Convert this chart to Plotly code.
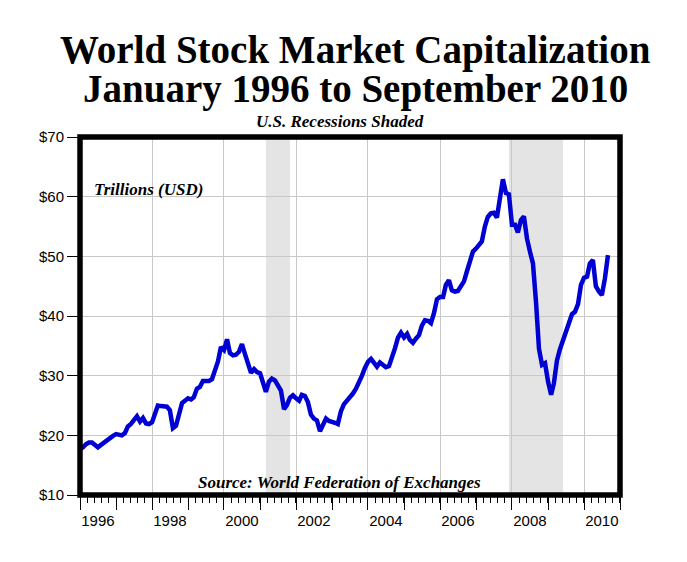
import pandas as pd
import plotly.graph_objects as go

# Monthly world stock market capitalization, trillions USD (Jan 1996 - Sep 2010)
v1996 = [17.7, 18.0, 18.5, 18.8, 18.8, 18.4, 18.0, 18.4, 18.8, 19.2, 19.7, 19.9]
v1997 = [20.2, 20.1, 20.0, 20.4, 21.5, 21.9, 22.6, 23.2, 22.3, 22.9, 22.0, 21.9]
v1998 = [22.2, 23.6, 25.0, 24.9, 24.9, 24.8, 24.2, 21.2, 21.6, 23.7, 25.4, 25.8]
v1999 = [26.2, 26.0, 26.4, 27.8, 28.1, 29.1, 29.1, 29.1, 29.4, 31.0, 32.4, 34.8]
v2000 = [34.3, 36.1, 33.8, 33.4, 33.5, 34.0, 35.3, 33.6, 32.2, 30.5, 31.1, 30.6]
v2001 = [30.4, 29.0, 27.3, 29.0, 29.5, 29.2, 28.5, 27.5, 24.4, 25.1, 26.3, 26.7]
v2002 = [26.2, 25.8, 26.8, 26.6, 25.6, 23.5, 22.8, 22.5, 20.7, 21.8, 22.8, 22.4]
v2003 = [22.3, 22.1, 21.9, 24.0, 25.2, 25.8, 26.3, 27.0, 27.8, 28.8, 30.0, 31.3]
v2004 = [32.3, 32.8, 32.0, 31.5, 32.2, 31.8, 31.4, 31.6, 32.9, 34.6, 36.4, 37.2]
v2005 = [36.4, 37.0, 36.0, 35.5, 36.2, 36.8, 38.4, 39.3, 39.2, 38.8, 40.5, 42.8]
v2006 = [43.2, 43.2, 45.2, 46.0, 44.3, 44.1, 44.2, 45.2, 45.8, 47.5, 49.5, 50.8]
v2007 = [51.3, 52.0, 52.5, 55.0, 56.6, 57.2, 57.3, 56.5, 59.6, 62.9, 60.6, 60.4]
v2008 = [55.3, 55.3, 54.0, 56.1, 56.7, 53.0, 50.8, 48.8, 42.3, 34.5, 31.8, 32.1]
v2009 = [29.0, 26.8, 28.7, 32.5, 34.4, 35.9, 37.3, 39.2, 40.3, 40.7, 42.0, 45.2]
v2010 = [46.4, 46.6, 48.8, 49.4, 45.0, 44.1, 43.5, 46.3, 50.2]

values = (v1996 + v1997 + v1998 + v1999 + v2000 + v2001 + v2002 + v2003 +
          v2004 + v2005 + v2006 + v2007 + v2008 + v2009 + v2010)
dates = pd.date_range("1996-01-01", periods=len(values), freq="MS")

recession_start = ["2001-03-01", "2007-12-01"]
recession_end = ["2001-11-01", "2009-06-01"]

label_years = ["1996", "1998", "2000", "2002", "2004", "2006", "2008", "2010"]
label_pos = [y + "-07-01" for y in label_years]

x_range = ["1996-01-01", "2011-01-01"]
y_range = [10, 70]

SERIF = "Liberation Serif"
SANS = "Liberation Sans"

fig = go.Figure()

fig.add_trace(go.Scatter(x=dates, y=values, mode="lines",
                         line=dict(color="#0000d2", width=4.5),
                         showlegend=False, hoverinfo="skip"))
# invisible helpers so overlay axes render
fig.add_trace(go.Scatter(x=x_range, y=y_range, xaxis="x2", mode="none",
                         showlegend=False, hoverinfo="skip"))
fig.add_trace(go.Scatter(x=x_range, y=y_range, xaxis="x3", mode="none",
                         showlegend=False, hoverinfo="skip"))

fig.update_layout(
    width=687, height=562,
    margin=dict(l=80, r=67, t=137, b=67),
    paper_bgcolor="white", plot_bgcolor="white",
    xaxis=dict(type="date", range=x_range, tickmode="linear",
               tick0="1996-01-01", dtick="M24", showgrid=True,
               gridcolor="#c8c8c8", gridwidth=1, ticks="outside",
               ticklen=14, tickcolor="black", tickwidth=1,
               showticklabels=False, showline=False, zeroline=False,
               minor=dict(ticks="outside", tick0="1996-01-01", dtick="M12",
                          ticklen=14, tickcolor="black", showgrid=False)),
    xaxis2=dict(type="date", range=x_range, overlaying="x", anchor="y",
                side="bottom", tickmode="array", tickvals=label_pos,
                ticktext=label_years, ticks="outside", ticklen=12,
                tickcolor="rgba(0,0,0,0)", showgrid=False, showline=False,
                zeroline=False,
                tickfont=dict(family=SANS, size=15, color="black")),
    xaxis3=dict(type="date", range=x_range, overlaying="x", anchor="y",
                side="bottom", tickmode="linear", tick0="1996-01-01",
                dtick=6311520000, ticks="outside", ticklen=7,
                tickcolor="black", showgrid=False, showline=False,
                showticklabels=False, zeroline=False),
    yaxis=dict(range=y_range, tickmode="linear", tick0=10, dtick=10,
               tickprefix="$", ticks="outside", ticklen=12,
               tickcolor="black", showgrid=True, gridcolor="#c8c8c8",
               showline=False, zeroline=False,
               tickfont=dict(family=SANS, size=15, color="black")),
)

for s, e in zip(recession_start, recession_end):
    fig.add_vrect(x0=s, x1=e, fillcolor="#e4e4e4", opacity=1, line_width=0,
                  layer="below")

fig.add_shape(type="rect", xref="paper", yref="paper", x0=0, x1=1, y0=0,
              y1=1, line=dict(color="black", width=5.5),
              fillcolor="rgba(0,0,0,0)", layer="above")

ann = [
    dict(text="<b>World Stock Market Capitalization</b>", x=0.511, y=1.243,
         font=dict(family=SERIF, size=39, color="black")),
    dict(text="<b>January 1996 to September 2010</b>", x=0.511, y=1.135,
         font=dict(family=SERIF, size=39, color="black")),
    dict(text="<b><i>U.S. Recessions Shaded</i></b>", x=0.481, y=1.043,
         font=dict(family=SERIF, size=17, color="black")),
    dict(text="<b><i>Source: World Federation of Exchanges</i></b>", x=0.481,
         y=0.036, font=dict(family=SERIF, size=17, color="black")),
]
for a in ann:
    fig.add_annotation(xref="paper", yref="paper", showarrow=False,
                       xanchor="center", yanchor="middle", **a)
fig.add_annotation(text="<b><i>Trillions (USD)</i></b>", xref="paper",
                   yref="paper", x=0.022, y=0.852, xanchor="left",
                   yanchor="middle", showarrow=False,
                   font=dict(family=SERIF, size=17, color="black"))

fig.write_html("out.html", config={"displayModeBar": False},
               post_script="document.body.style.margin='0';")
